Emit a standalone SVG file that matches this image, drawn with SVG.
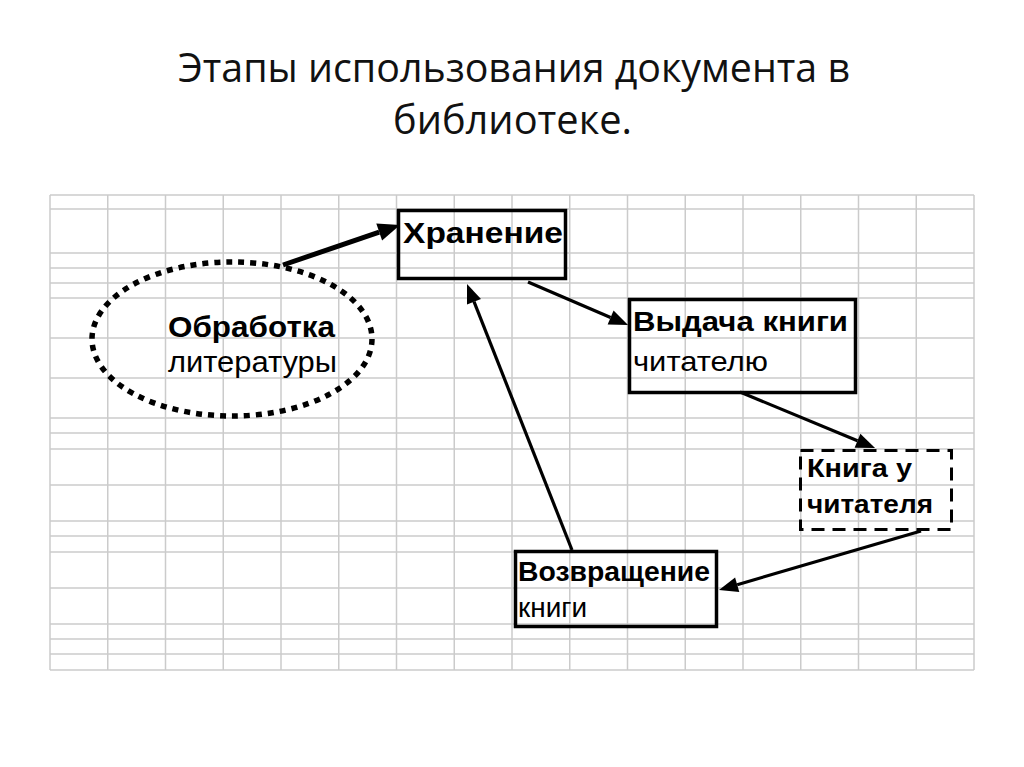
<svg xmlns="http://www.w3.org/2000/svg" width="1024" height="767" viewBox="0 0 1024 767">
<style>
.grid line{stroke:#cbcbcb;stroke-width:1.5}
.title{font-family:"Open Sans","Noto Sans",sans-serif;font-size:41px;fill:#111}
.b{font-family:"Liberation Sans",Arial,sans-serif;font-weight:bold;fill:#000}
.r{font-family:"Liberation Sans",Arial,sans-serif;fill:#000}
.box{fill:none;stroke:#000;stroke-width:3.5}
.conn line{stroke:#000;stroke-width:3.2}
</style>
<defs>
<marker id="ah" markerUnits="userSpaceOnUse" markerWidth="19" markerHeight="15" refX="0" refY="7.5" orient="auto" overflow="visible"><path d="M0,0 L19,7.5 L0,15 z" fill="#000"/></marker>
<marker id="ahBig" markerUnits="userSpaceOnUse" markerWidth="22" markerHeight="18" refX="0" refY="9" orient="auto" overflow="visible"><path d="M0,0 L22,9 L0,18 z" fill="#000"/></marker>
</defs>
<rect width="1024" height="767" fill="#fff"/>
<text class="title" x="178" y="82" textLength="672" lengthAdjust="spacingAndGlyphs">Этапы использования документа в</text>
<text class="title" x="393" y="134" textLength="239" lengthAdjust="spacingAndGlyphs">библиотеке.</text>
<g class="grid" id="grid">
<line x1="50" y1="195" x2="50" y2="670"/><line x1="107.75" y1="195" x2="107.75" y2="670"/><line x1="165.5" y1="195" x2="165.5" y2="670"/><line x1="223.25" y1="195" x2="223.25" y2="670"/><line x1="281" y1="195" x2="281" y2="670"/><line x1="338.75" y1="195" x2="338.75" y2="670"/><line x1="396.5" y1="195" x2="396.5" y2="670"/><line x1="454.25" y1="195" x2="454.25" y2="670"/><line x1="512" y1="195" x2="512" y2="670"/><line x1="569.75" y1="195" x2="569.75" y2="670"/><line x1="627.5" y1="195" x2="627.5" y2="670"/><line x1="685.25" y1="195" x2="685.25" y2="670"/><line x1="743" y1="195" x2="743" y2="670"/><line x1="800.75" y1="195" x2="800.75" y2="670"/><line x1="858.5" y1="195" x2="858.5" y2="670"/><line x1="916.25" y1="195" x2="916.25" y2="670"/><line x1="974" y1="195" x2="974" y2="670"/>
<line x1="50" y1="195" x2="974" y2="195"/><line x1="50" y1="209" x2="974" y2="209"/><line x1="50" y1="253" x2="974" y2="253"/><line x1="50" y1="268" x2="974" y2="268"/><line x1="50" y1="283" x2="974" y2="283"/><line x1="50" y1="298" x2="974" y2="298"/><line x1="50" y1="338" x2="974" y2="338"/><line x1="50" y1="378" x2="974" y2="378"/><line x1="50" y1="418" x2="974" y2="418"/><line x1="50" y1="433" x2="974" y2="433"/><line x1="50" y1="449" x2="974" y2="449"/><line x1="50" y1="485" x2="974" y2="485"/><line x1="50" y1="521" x2="974" y2="521"/><line x1="50" y1="536" x2="974" y2="536"/><line x1="50" y1="552" x2="974" y2="552"/><line x1="50" y1="588" x2="974" y2="588"/><line x1="50" y1="624" x2="974" y2="624"/><line x1="50" y1="639" x2="974" y2="639"/><line x1="50" y1="654" x2="974" y2="654"/><line x1="50" y1="670" x2="974" y2="670"/>
</g>
<g id="processing">
<ellipse cx="232" cy="339" rx="140" ry="77" fill="none" stroke="#000" stroke-width="5.5" stroke-dasharray="6 6"/>
<text class="b" x="168" y="337" font-size="30" textLength="167" lengthAdjust="spacingAndGlyphs">Обработка</text>
<text class="r" x="168" y="372" font-size="30" textLength="169" lengthAdjust="spacingAndGlyphs">литературы</text>
</g>
<g id="storage">
<rect class="box" x="398.5" y="210.5" width="167" height="68"/>
<text class="b" x="403" y="243" font-size="30" textLength="160" lengthAdjust="spacingAndGlyphs">Хранение</text>
</g>
<g id="issue">
<rect class="box" x="629.5" y="299.5" width="226" height="93"/>
<text class="b" x="633" y="331" font-size="28" textLength="215" lengthAdjust="spacingAndGlyphs">Выдача книги</text>
<text class="r" x="633" y="371" font-size="28" textLength="135" lengthAdjust="spacingAndGlyphs">читателю</text>
</g>
<g id="reader">
<rect x="800.5" y="450.5" width="151" height="79" fill="none" stroke="#000" stroke-width="3" stroke-dasharray="13 8"/>
<text class="b" x="807" y="477" font-size="25" textLength="105" lengthAdjust="spacingAndGlyphs">Книга у</text>
<text class="b" x="807" y="513" font-size="25" textLength="126" lengthAdjust="spacingAndGlyphs">читателя</text>
</g>
<g id="return">
<rect class="box" x="515.5" y="551.5" width="201" height="75"/>
<text class="b" x="518" y="581" font-size="28" textLength="192" lengthAdjust="spacingAndGlyphs">Возвращение</text>
<text class="r" x="518" y="617" font-size="28" textLength="69" lengthAdjust="spacingAndGlyphs">книги</text>
</g>
<g class="conn" id="connectors">
<line x1="283" y1="265" x2="379.2" y2="232.1" style="stroke-width:5" marker-end="url(#ahBig)"/>
<line x1="528" y1="282" x2="610.6" y2="317.5" marker-end="url(#ah)"/>
<line x1="572" y1="550" x2="474" y2="301.7" marker-end="url(#ah)"/>
<line x1="740" y1="392" x2="857.5" y2="440.7" marker-end="url(#ah)"/>
<line x1="921" y1="531" x2="737.2" y2="584.7" marker-end="url(#ah)"/>
</g>
</svg>
